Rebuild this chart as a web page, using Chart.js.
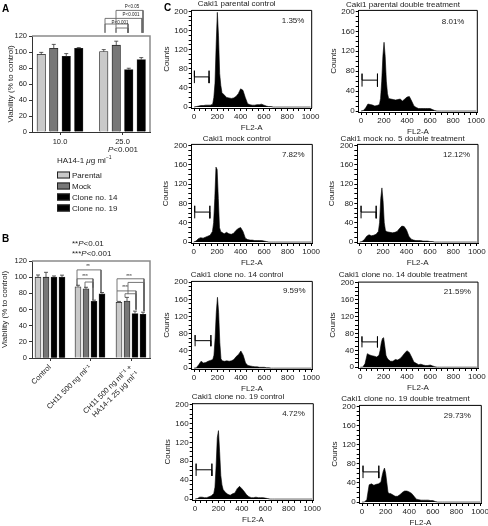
<!DOCTYPE html>
<html>
<head>
<meta charset="utf-8">
<script src="https://cdn.jsdelivr.net/npm/chart.js@4"></script>
<style>
  html, body { margin: 0; padding: 0; background: #fff; }
  body { position: relative; width: 488px; height: 526px; overflow: hidden; }
  canvas { position: absolute; }
  .txt { position: absolute; font: 8px "Liberation Sans", sans-serif; color: #222; white-space: nowrap; transform: translateY(-50%); }
  .txt sup { font-size: 5px; line-height: 0; }
  .swatch { position: absolute; width: 11px; height: 5px; border: 0.5px solid #222; transform: translateY(-50%); }
</style>
</head>
<body>
<script>
// bar panels
const seriesNames = ["Parental", "Mock", "Clone no. 14", "Clone no. 19"];
const seriesColours = ["#c9c9c9", "#777777", "#000000", "#000000"];

const doseLabels = ["10.0", "25.0"];
const doseParental = [97, 100.5];
const doseMock = [104.5, 108.5];
const doseClone14 = [94.5, 78];
const doseClone19 = [104.5, 90.5];
const doseErrors = [[2.5, 2.5], [5, 5], [3.5, 1.7], [1, 2.5]];

const treatLabels = ["Control", "CH11 500 ng ml⁻¹", ["CH11 500 ng ml⁻¹ +", "HA14-1 25 μg ml⁻¹"]];
const treatParental = [100, 88, 69];
const treatMock = [100, 85.5, 70.5];
const treatClone14 = [100, 70, 55];
const treatClone19 = [100, 79.5, 54];
const treatErrors = [[2.7, 2, 1], [6, 2, 4.5], [1.5, 1.6, 3], [2.5, 1.5, 2.7]];

// histogram panels, counts read at each channel
const channels = [0, 20, 40, 60, 80, 100, 120, 140, 160, 170, 180, 190, 200, 210, 220, 230, 240, 260, 280, 300, 320, 340, 360, 380, 400, 420, 440, 460, 480, 500, 520, 540, 560, 580, 600, 620, 640, 660, 680, 700, 1000];
const parentalControl = [0, 1, 2, 3, 3, 4, 4, 4, 6, 20, 50, 130, 198, 150, 70, 45, 30, 25, 20, 19, 18, 19, 22, 28, 38, 35, 20, 7, 5, 4, 4, 5, 5, 6, 4, 2, 1, 1, 0, 0, 0];
const parentalDouble = [0, 1, 6, 14, 13, 12, 10, 11, 13, 25, 60, 110, 138, 110, 60, 35, 25, 24, 23, 22, 23, 24, 20, 24, 28, 29, 20, 10, 7, 5, 5, 5, 5, 5, 5, 3, 1, 0, 0, 0, 0];
const mockControl = [0, 2, 7, 9, 8, 10, 12, 14, 22, 40, 90, 155, 150, 90, 30, 22, 20, 17, 20, 17, 16, 18, 24, 28, 30, 22, 8, 5, 4, 4, 3, 3, 3, 3, 2, 1, 0, 0, 0, 0, 0];
const mockDouble = [0, 1, 5, 12, 15, 13, 14, 16, 22, 40, 90, 112, 85, 40, 24, 22, 21, 20, 19, 20, 22, 28, 33, 32, 25, 12, 6, 4, 3, 3, 3, 2, 2, 2, 1, 1, 0, 0, 0, 0, 0];
const clone14Control = [0, 1, 8, 16, 12, 13, 16, 18, 20, 30, 70, 130, 165, 130, 60, 22, 17, 16, 17, 16, 17, 20, 27, 32, 40, 30, 12, 6, 5, 4, 3, 3, 2, 2, 2, 1, 1, 0, 0, 0, 0];
const clone14Double = [0, 0, 8, 32, 29, 27, 26, 24, 28, 40, 58, 68, 70, 50, 28, 22, 18, 14, 14, 18, 17, 20, 26, 33, 39, 35, 24, 12, 9, 6, 7, 5, 4, 4, 5, 3, 1, 0, 0, 0, 0];
const clone19Control = [0, 1, 4, 4, 3, 3, 5, 7, 12, 25, 70, 130, 145, 100, 50, 30, 20, 14, 10, 8, 11, 13, 22, 27, 22, 16, 9, 5, 3, 3, 4, 3, 3, 3, 2, 1, 0, 0, 0, 0, 0];
const clone19Double = [0, 0, 5, 36, 38, 35, 37, 38, 42, 55, 65, 71, 60, 40, 20, 18, 18, 15, 12, 12, 15, 20, 23, 23, 21, 18, 12, 6, 5, 4, 4, 4, 4, 3, 3, 1, 0, 0, 0, 0, 0];

const histTitles = ["Caki1 parental control", "Caki1 parental double treatment", "Caki1 mock control", "Caki1 mock no. 5 double treatment", "Caki1 clone no. 14 control", "Caki1 clone no. 14 double treatment", "Caki1 clone no. 19 control", "Caki1 clone no. 19 double treatment"];
const histSeries = [parentalControl, parentalDouble, mockControl, mockDouble, clone14Control, clone14Double, clone19Control, clone19Double];
const histPercents = ["1.35%", "8.01%", "7.82%", "12.12%", "9.59%", "21.59%", "4.72%", "29.73%"];
const gateStart = [3, 9, 9, 12, 9, 14, 9, 8];
const gateEnd = [129, 143, 138, 141, 144, 147, 144, 142];
const gateLevel = [63, 62, 62, 62, 64, 60, 62, 63];

Chart.defaults.font.family = '"Liberation Sans", sans-serif';
Chart.defaults.font.size = 8;
Chart.defaults.color = "#222";
Chart.defaults.animation = false;

// top + right edge of each plot
const framePlugin = {
  id: "frame",
  afterDraw(chart, args, opts) {
    const a = chart.chartArea, ctx = chart.ctx;
    ctx.save();
    ctx.strokeStyle = opts.color;
    ctx.lineWidth = opts.width;
    ctx.beginPath();
    ctx.moveTo(a.left, a.top);
    ctx.lineTo(a.right, a.top);
    ctx.lineTo(a.right, a.bottom);
    ctx.stroke();
    ctx.restore();
  },
};

const errorPlugin = {
  id: "errors",
  afterDatasetsDraw(chart) {
    const ctx = chart.ctx, y = chart.scales.y;
    ctx.save();
    ctx.strokeStyle = "#333";
    ctx.lineWidth = 0.8;
    chart.data.datasets.forEach((ds, i) => {
      if (!ds.errors) return;
      chart.getDatasetMeta(i).data.forEach((bar, j) => {
        const top = y.getPixelForValue(ds.data[j].y + ds.errors[j]);
        ctx.beginPath();
        ctx.moveTo(bar.x, bar.y);
        ctx.lineTo(bar.x, top);
        ctx.moveTo(bar.x - 2, top);
        ctx.lineTo(bar.x + 2, top);
        ctx.stroke();
      });
    });
    ctx.restore();
  },
};

// small text placed through the chart's own scales
const notePlugin = {
  id: "notes",
  afterDraw(chart, args, opts) {
    const ctx = chart.ctx;
    ctx.save();
    ctx.fillStyle = "#222";
    ctx.textAlign = "center";
    ctx.textBaseline = "middle";
    ctx.font = opts.size + 'px "Liberation Sans", sans-serif';
    opts.items.forEach((n) => {
      ctx.fillText(n[0], chart.scales.x.getPixelForValue(n[1]), chart.scales.y.getPixelForValue(n[2]));
    });
    ctx.restore();
  },
};

function addCanvas(left, top, width, height) {
  const c = document.createElement("canvas");
  c.width = width;
  c.height = height;
  c.style.left = left + "px";
  c.style.top = top + "px";
  c.style.width = width + "px";
  c.style.height = height + "px";
  document.body.appendChild(c);
  return c;
}

function addText(html, x, y, extra) {
  const d = document.createElement("div");
  d.className = "txt";
  d.innerHTML = html;
  d.style.left = x + "px";
  d.style.top = y + "px";
  if (extra) d.style.cssText += extra;
  document.body.appendChild(d);
}

// [x0, x1, top, leftEnd, rightEnd]
function bracketDataset(b) {
  return {
    type: "line",
    data: [{ x: b[0], y: b[3] }, { x: b[0], y: b[2] }, { x: b[1], y: b[2] }, { x: b[1], y: b[4] }],
    borderColor: "#666",
    borderWidth: 0.9,
    pointRadius: 0,
    fill: false,
    clip: false,
  };
}

function barPanel(cfg) {
  const area = cfg.area, cv = cfg.canvas;
  const barSets = cfg.values.map((vals, i) => ({
    label: seriesNames[i],
    data: vals.map((v, j) => ({ x: cfg.centres[j] + (i - 1.5) * cfg.pitch, y: v })),
    errors: cfg.errors[i],
    backgroundColor: seriesColours[i],
    borderColor: "#222",
    borderWidth: 0.8,
    barThickness: cfg.barWidth,
    grouped: false,
  }));
  new Chart(addCanvas(cv.left, cv.top, cv.width, cv.height), {
    type: "bar",
    data: { datasets: barSets.concat(cfg.brackets.map(bracketDataset)) },
    plugins: [framePlugin, errorPlugin, notePlugin],
    options: {
      responsive: false,
      layout: { padding: { left: area.left - cv.left - cfg.yWidth, right: cv.left + cv.width - area.right, top: area.top - cv.top, bottom: 0 } },
      plugins: {
        legend: { display: false },
        tooltip: { enabled: false },
        frame: { color: "#8a8a8a", width: 1.5 },
        notes: { size: 4.5, items: cfg.notes },
      },
      scales: {
        x: {
          type: "linear",
          offset: false,
          min: 0,
          max: area.right - area.left,
          afterBuildTicks: (s) => { s.ticks = cfg.centres.map((v) => ({ value: v })); },
          afterFit: (s) => { s.height = cv.top + cv.height - area.bottom; },
          grid: { offset: false, drawOnChartArea: false, tickLength: 3, color: "#333" },
          border: { color: "#333", width: 1 },
          ticks: {
            autoSkip: false,
            minRotation: cfg.rotation,
            maxRotation: cfg.rotation,
            padding: 2,
            font: { size: 7.5 },
            callback: (v, i) => cfg.labels[i],
          },
        },
        y: {
          min: 0,
          max: 120,
          afterFit: (s) => { s.width = cfg.yWidth; },
          grid: { drawOnChartArea: false, tickLength: 3, color: "#333" },
          border: { color: "#333", width: 1 },
          ticks: { stepSize: 20, padding: 2, font: { size: 7.5 } },
          title: { display: true, text: "Viability (% to control)", font: { size: 8 }, padding: 0 },
        },
      },
    },
  });
}

barPanel({
  canvas: { left: 0, top: 0, width: 170, height: 150 },
  area: { left: 32, right: 150, top: 36, bottom: 132 },
  yWidth: 26,
  values: [[doseParental[0], doseParental[1]], [doseMock[0], doseMock[1]], [doseClone14[0], doseClone14[1]], [doseClone19[0], doseClone19[1]]],
  errors: doseErrors,
  labels: doseLabels,
  centres: [28, 90.5],
  pitch: 12.5,
  barWidth: 8.5,
  rotation: 0,
  brackets: [[84, 111, 152, 124, 124], [73, 110, 142, 124, 124], [73, 96, 135, 124, 124], [84, 96, 130, 124, 124]],
  notes: [["P<0.05", 100, 157], ["P<0.001", 99, 146], ["P<0.001", 88, 137]],
});

barPanel({
  canvas: { left: 0, top: 250, width: 170, height: 180 },
  area: { left: 32, right: 150, top: 261, bottom: 358 },
  yWidth: 32,
  values: [treatParental, treatMock, treatClone14, treatClone19],
  errors: treatErrors,
  labels: treatLabels,
  centres: [18, 58, 99],
  pitch: 8,
  barWidth: 6,
  rotation: 45,
  brackets: [
    [45, 69, 109, 90, 81], [45, 61, 98, 90, 72], [53, 61, 94, 87, 87],
    [85, 112, 98, 83, 58], [96, 112, 93.5, 79, 58], [85, 104, 83, 70, 60], [93, 104, 79.5, 75, 60],
  ],
  notes: [["**", 56, 113], ["***", 53, 101], ["***", 97, 101], ["***", 93, 87]],
});

// plot boxes and where title / percent sit, per histogram
const histBoxes = [
  { left: 191.7, right: 311.7, top: 11, bottom: 107.7, titleX: 250, titleY: 4, pctX: 850 },
  { left: 358.7, right: 477.3, top: 11, bottom: 111.7, titleX: 418.7, titleY: 5.3, pctX: 800 },
  { left: 191.3, right: 312.3, top: 145, bottom: 243.3, titleX: 250.7, titleY: 139, pctX: 848 },
  { left: 357.3, right: 478, top: 145, bottom: 242.7, titleX: 420.7, titleY: 139, pctX: 827 },
  { left: 191.7, right: 312.3, top: 282, bottom: 368.7, titleX: 250.7, titleY: 275.3, pctX: 856 },
  { left: 358, right: 478, top: 282.7, bottom: 367.7, titleX: 417.3, titleY: 275.3, pctX: 833 },
  { left: 192.7, right: 313.3, top: 404.3, bottom: 500.3, titleX: 250.7, titleY: 397, pctX: 841 },
  { left: 359.7, right: 481.3, top: 406, bottom: 502.7, titleX: 419.7, titleY: 398.7, pctX: 807 },
];

histBoxes.forEach((box, i) => {
  const cvW = 200, xHeight = 25, yWidth = 30, titleLine = 10.2;
  const cvLeft = Math.round(box.titleX - cvW / 2);
  const cvTop = Math.round(box.titleY - 5);
  const cvH = Math.round(box.bottom + xHeight - cvTop);
  const gateH = 13;
  new Chart(addCanvas(cvLeft, cvTop, cvW, cvH), {
    type: "line",
    data: {
      datasets: [
        {
          data: channels.map((c, j) => ({ x: c, y: histSeries[i][j] })),
          borderColor: "#000",
          backgroundColor: "#000",
          borderWidth: 0.6,
          pointRadius: 0,
          fill: "origin",
        },
        {
          data: [
            { x: gateStart[i], y: gateLevel[i] - gateH }, { x: gateStart[i], y: gateLevel[i] + gateH }, { x: gateStart[i], y: gateLevel[i] },
            { x: gateEnd[i], y: gateLevel[i] }, { x: gateEnd[i], y: gateLevel[i] + gateH }, { x: gateEnd[i], y: gateLevel[i] - gateH },
          ],
          borderColor: "#000",
          borderWidth: 1,
          pointRadius: 0,
          fill: false,
        },
      ],
    },
    plugins: [framePlugin, notePlugin],
    options: {
      responsive: false,
      layout: { padding: { left: box.left - yWidth - cvLeft, right: cvLeft + cvW - box.right, top: 0, bottom: 0 } },
      plugins: {
        legend: { display: false },
        tooltip: { enabled: false },
        frame: { color: "#000", width: 1 },
        notes: { size: 8, items: [[histPercents[i], box.pctX, 180]] },
        title: {
          display: true,
          text: histTitles[i],
          font: { size: 8, weight: "normal" },
          color: "#222",
          padding: { top: 0, bottom: box.top - cvTop - titleLine },
        },
      },
      scales: {
        x: {
          type: "linear",
          min: -20,
          max: 1010,
          afterBuildTicks: (s) => {
            s.ticks = [];
            for (let v = 0; v <= 1000; v += 50) s.ticks.push({ value: v });
          },
          afterFit: (s) => { s.height = xHeight; },
          grid: { drawOnChartArea: false, tickLength: 3, color: "#000" },
          border: { color: "#000", width: 1 },
          ticks: { autoSkip: false, maxRotation: 0, padding: 1, callback: (v) => (v % 200 === 0 ? v : "") },
          title: { display: true, text: "FL2-A", padding: 0 },
        },
        y: {
          min: -2,
          max: 202,
          afterBuildTicks: (s) => {
            s.ticks = [];
            for (let v = 0; v <= 200; v += 10) s.ticks.push({ value: v });
          },
          afterFit: (s) => { s.width = yWidth; },
          grid: { drawOnChartArea: false, tickLength: 3, color: "#000" },
          border: { color: "#000", width: 1 },
          ticks: { autoSkip: false, padding: 1, callback: (v) => (v % 40 === 0 ? v : "") },
          title: { display: true, text: "Counts", padding: 0 },
        },
      },
    },
  });
});

// loose labels
addText("A", 2, 8, "font-weight:bold;font-size:10px;color:#000");
addText("B", 2, 238, "font-weight:bold;font-size:10px;color:#000");
addText("C", 164, 7, "font-weight:bold;font-size:10px;color:#000");
addText("<i>P</i>&lt;0.001", 108, 149);
addText("HA14-1 <i>μ</i>g ml<sup>−1</sup>", 57, 160);
addText("**<i>P</i>&lt;0.01", 72, 243);
addText("***<i>P</i>&lt;0.001", 72, 253);

seriesNames.forEach((name, i) => {
  const y = 175 + i * 11;
  const s = document.createElement("div");
  s.className = "swatch";
  s.style.left = "57px";
  s.style.top = y + "px";
  s.style.background = seriesColours[i];
  document.body.appendChild(s);
  addText(name, 72, y);
});
</script>
</body>
</html>
